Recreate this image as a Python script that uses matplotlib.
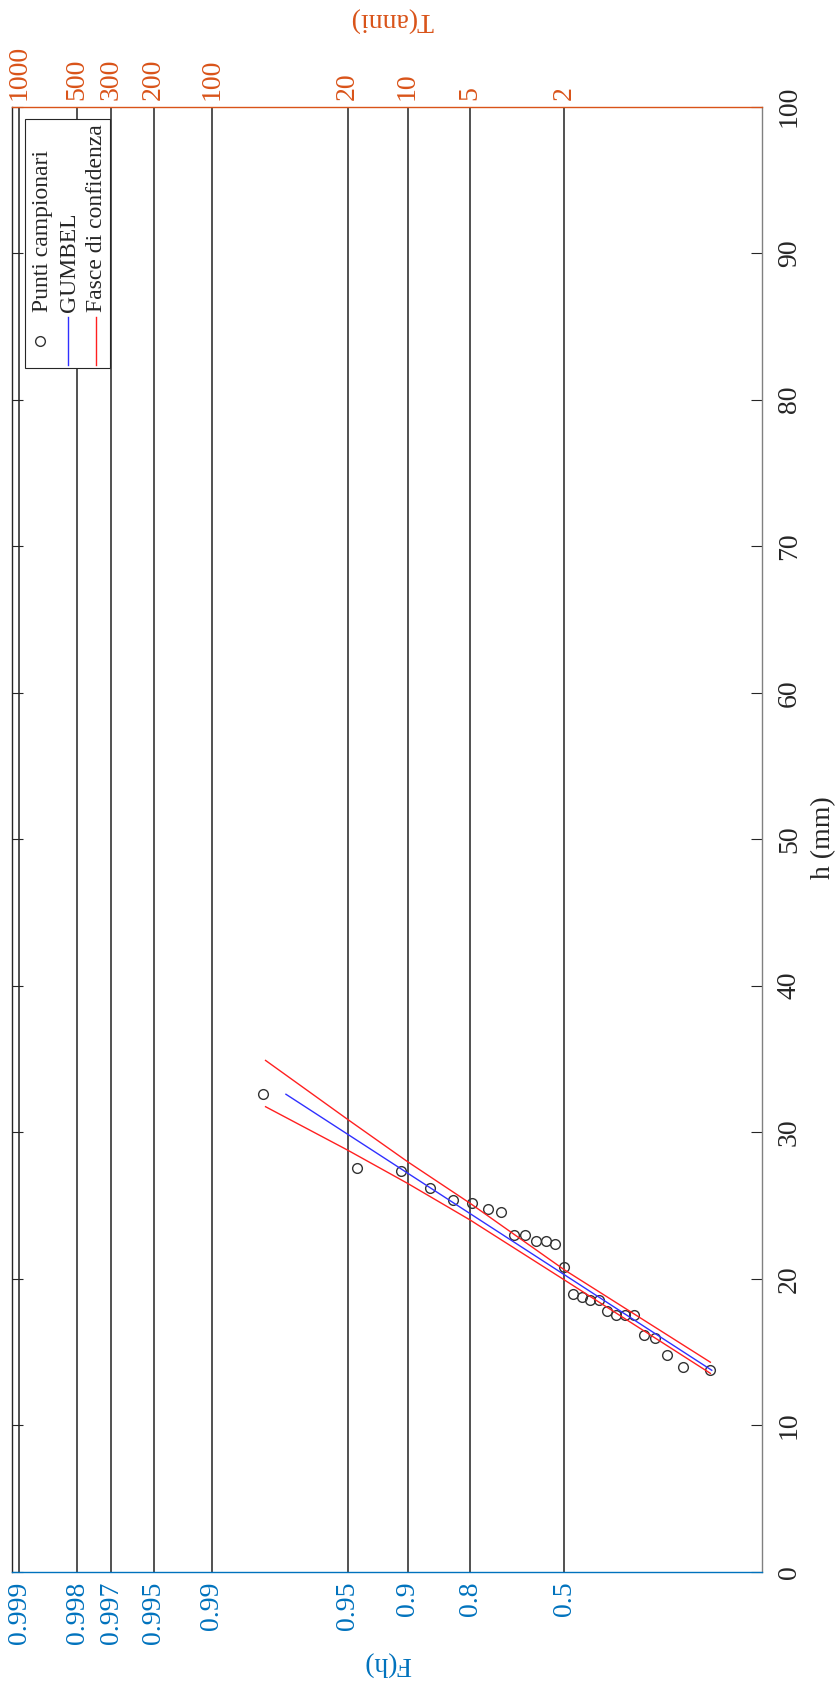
import numpy as np
import matplotlib
matplotlib.use("Agg")
import matplotlib.pyplot as plt
from matplotlib.patches import Rectangle
from matplotlib.lines import Line2D

plt.rcParams["font.family"] = ["Liberation Serif", "DejaVu Serif"]

# valori di F(h) sulle linee verticali e tempi di ritorno corrispondenti
f_ticks = [0.999, 0.998, 0.997, 0.995, 0.99, 0.95, 0.9, 0.8, 0.5]
f_labels = ["0.999", "0.998", "0.997", "0.995", "0.99", "0.95", "0.9", "0.8", "0.5"]
t_labels = ["1000", "500", "300", "200", "100", "20", "10", "5", "2"]
h_ticks = [0, 10, 20, 30, 40, 50, 60, 70, 80, 90, 100]

# punti campionari (frequenza di non superamento, altezza di pioggia in mm)
camp_F = [0.0185, 0.0556, 0.0926, 0.1296, 0.1667, 0.2037, 0.2407, 0.2778, 0.3148,
          0.3519, 0.3889, 0.4259, 0.4630, 0.5000, 0.5370, 0.5741, 0.6111, 0.6481,
          0.6852, 0.7222, 0.7593, 0.7963, 0.8333, 0.8704, 0.9074, 0.9444, 0.9815]
camp_h = [13.75, 13.97, 14.77, 15.97, 16.16, 17.55, 17.55, 17.55, 17.80,
          18.58, 18.58, 18.77, 18.98, 20.78, 22.37, 22.55, 22.55, 22.96,
          22.97, 24.55, 24.78, 25.17, 25.39, 26.17, 27.37, 27.58, 32.59]

# retta di Gumbel
gumbel_F = [0.0173, 0.9758]
gumbel_h = [13.75, 32.59]

# fasce di confidenza
banda_F = [0.0185, 0.5, 0.8, 0.9, 0.95, 0.981]
banda_sup = [14.30, 20.60, 25.15, 27.99, 30.88, 34.90]
banda_inf = [13.54, 19.91, 24.01, 26.51, 28.78, 31.74]

BLU = "#0072bd"
ARANCIO = "#d95319"
FS = 20
FS_LEG = 17

W, H = 838, 1685


def px(x, y):
    # pixel -> coordinate figura
    return x / W, 1 - y / H


def gumbel_fwd(F):
    F = np.clip(F, 1e-12, 1 - 1e-12)
    return -np.log(-np.log(F))


def gumbel_inv(u):
    return np.exp(-np.exp(-u))


fig = plt.figure(figsize=(W / 100, H / 100), dpi=100)
ax = fig.add_axes([11.7 / W, 1 - 1571.7 / H, 750 / W, 1465 / H])

ax.set_xscale("function", functions=(gumbel_fwd, gumbel_inv))
ax.set_xlim(gumbel_inv(7), gumbel_inv(-2))
ax.set_ylim(0, 100)

ax.plot(camp_F, camp_h, "o", mfc="none", mec="#333333", ms=7, mew=1.0, zorder=3)
ax.plot(gumbel_F, gumbel_h, color="#3030ff", lw=1.0, zorder=4)
ax.plot(banda_F, banda_sup, color="#ff2020", lw=1.0, zorder=4)
ax.plot(banda_F, banda_inf, color="#ff2020", lw=1.0, zorder=4)

ax.set_xticks(f_ticks)
ax.set_xticklabels(f_labels)
ax.xaxis.set_minor_locator(matplotlib.ticker.NullLocator())
ax.grid(axis="x", color="#333333", lw=1.2)

# asse superiore con i tempi di ritorno
ax_t = ax.twiny()
ax_t.set_xscale("function", functions=(gumbel_fwd, gumbel_inv))
ax_t.set_xlim(ax.get_xlim())
ax_t.set_xticks(f_ticks)
ax_t.set_xticklabels(t_labels)
ax_t.xaxis.set_minor_locator(matplotlib.ticker.NullLocator())
ax_t.tick_params(axis="x", top=True, labeltop=True, bottom=False, labelbottom=False,
                 direction="in", length=0, pad=5, labelrotation=90,
                 labelcolor=ARANCIO, labelsize=FS)
for s in ["bottom", "left", "right"]:
    ax_t.spines[s].set_visible(False)
ax_t.spines["top"].set_color(ARANCIO)
ax_t.spines["top"].set_linewidth(1.0)

ax.tick_params(axis="x", direction="in", length=0, pad=7, labelrotation=90,
               labelcolor=BLU, labelsize=FS)
ax.set_yticks(h_ticks)
ax.tick_params(axis="y", left=True, right=True, labelleft=False, labelright=True,
               direction="in", length=8, width=0.8, pad=11, labelrotation=90,
               labelsize=FS, labelcolor="#262626", color="#262626")
for lab in ax.get_yticklabels():
    lab.set_verticalalignment("center")

ax.spines["top"].set_visible(False)
ax.spines["bottom"].set_color(BLU)
ax.spines["left"].set_color("#262626")
ax.spines["right"].set_color("#808080")
for s in ax.spines.values():
    s.set_linewidth(1.0)

# etichette degli assi
fig.text(*px(824, 838), "h (mm)", rotation=90, ha="center", va="center",
         fontsize=FS, color="#262626")
fig.text(*px(387, 1663), "F(h)", rotation=180, ha="center", va="center",
         fontsize=FS, color=BLU)
fig.text(*px(392, 19), "T(anni)", rotation=180, ha="center", va="center",
         fontsize=FS, color=ARANCIO)

# legenda (ruotata come il resto del grafico)
x0, y0 = px(25, 368.3)
x1, y1 = px(110, 119.3)
fig.add_artist(Rectangle((x0, y0), x1 - x0, y1 - y0, transform=fig.transFigure,
                         facecolor="white", edgecolor="#262626", lw=0.8, zorder=5))
voci = [("Punti campionari", 43), ("GUMBEL", 69), ("Fasce di confidenza", 96.5)]
for testo, xc in voci:
    fig.text(*px(xc, 311.7), testo, rotation=90, ha="center", va="bottom",
             fontsize=FS_LEG, color="#262626", zorder=6)
fig.add_artist(Line2D([px(40, 340.7)[0]], [px(40, 340.7)[1]], marker="o", mfc="none",
                      mec="#333333", ms=7, mew=1.0, ls="none",
                      transform=fig.transFigure, zorder=6))
for xc, col in [(68.3, "#3030ff"), (95.7, "#ff2020")]:
    a, b = px(xc, 316.7), px(xc, 365)
    fig.add_artist(Line2D([a[0], b[0]], [a[1], b[1]], color=col, lw=1.0,
                          transform=fig.transFigure, zorder=6))

fig.savefig("out.png", dpi=100)
